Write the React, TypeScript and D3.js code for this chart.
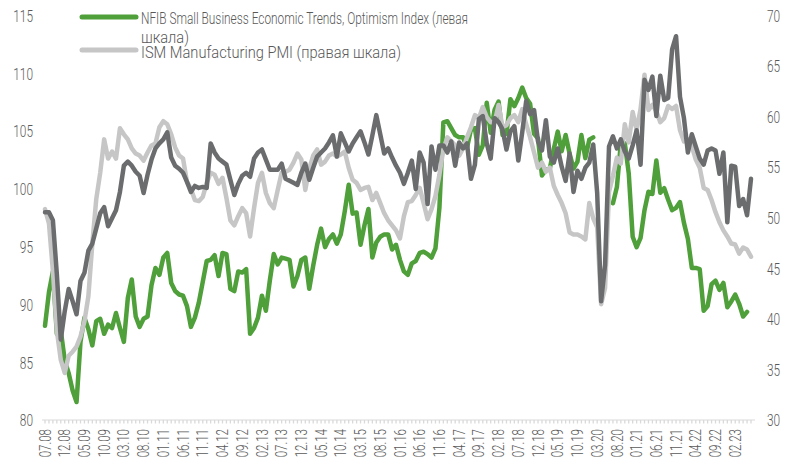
import React from "react";
import * as d3 from "d3";

// Tick labels for the time axis (MM.YY), one every 5 months starting 07.08
const tickLabels = [
  "07.08", "12.08", "05.09", "10.09", "03.10", "08.10", "01.11", "06.11", "11.11",
  "04.12", "09.12", "02.13", "07.13", "12.13", "05.14", "10.14", "03.15", "08.15",
  "01.16", "06.16", "11.16", "04.17", "09.17", "02.18", "07.18", "12.18", "05.19",
  "10.19", "03.20", "08.20", "01.21", "06.21", "11.21", "04.22", "09.22", "02.23",
];

// NFIB Small Business Optimism Index (left axis), monthly from 07.2008
const nfib: (number | null)[] = [
  88.2, 91.1, 92.9, 87.5, 87.8, 85.2,
  84.1, 82.6, 81.6, 86.8, 88.9, 87.9, 86.5, 88.6, 88.8, 87.5, 88.3, 88.0,
  89.3, 88.0, 86.8, 90.6, 92.2, 89.0, 88.1, 88.8, 89.0, 91.7, 93.2, 92.6,
  94.1, 94.5, 91.9, 91.2, 90.9, 90.8, 89.9, 88.1, 88.9, 90.2, 92.0, 93.8,
  93.9, 94.3, 92.5, 94.5, 94.4, 91.4, 91.2, 92.9, 92.8, 93.1, 87.5, 88.0,
  88.9, 90.8, 89.5, 92.1, 94.4, 93.5, 94.1, 94.0, 93.9, 91.6, 92.5, 93.9,
  94.1, 91.4, 93.4, 95.2, 96.6, 95.0, 95.7, 96.1, 95.3, 96.1, 98.1, 100.4,
  97.9, 98.0, 95.2, 96.9, 98.3, 94.1, 95.4, 95.9, 96.1, 96.1, 94.8, 95.2,
  93.9, 92.9, 92.6, 93.6, 93.8, 94.5, 94.6, 94.4, 94.1, 94.9, 98.4, 105.8,
  105.9, 105.3, 104.7, 104.5, 104.5, 103.6, 105.2, 105.3, 103.0, 103.8, 107.5, 104.9,
  106.9, 107.6, 104.7, 104.8, 107.8, 107.2, 107.9, 108.8, 107.9, 107.4, 104.8, 104.4,
  101.2, 101.7, 101.8, 103.5, 105.0, 103.3, 104.7, 103.1, 101.8, 102.4, 104.7, 102.7,
  104.3, 104.5, null, null, null, null, 98.8, 100.2, 104.0, 104.0, 101.4, 95.9,
  95.0, 95.8, 98.2, 99.8, 99.6, 102.5, 99.7, 100.1, 99.1, 98.2, 98.4, 98.9,
  97.1, 95.7, 93.2, 93.2, 93.1, 89.5, 89.9, 91.8, 92.1, 91.3, 91.9, 89.8,
  90.3, 90.9, 90.1, 89.0, 89.4,
];

// ISM Manufacturing PMI (right axis)
const ismMfg: number[] = [
  50.9, 49.5, 44.8, 38.9, 36.0, 34.7,
  36.4, 36.8, 37.3, 38.3, 39.8, 42.3, 47.5, 51.9, 54.5, 57.8, 55.9, 56.6,
  55.9, 58.9, 58.3, 57.8, 56.9, 56.4, 56.2, 55.7, 56.5, 57.2, 57.4, 59.0,
  59.6, 59.3, 58.3, 57.0, 56.2, 55.9, 53.6, 52.9, 51.8, 51.7, 52.1, 53.5,
  54.5, 54.3, 53.4, 54.0, 52.0, 49.8, 49.3, 50.2, 51.0, 50.5, 48.2, 51.0,
  53.5, 54.5, 52.5, 51.5, 51.0, 52.8, 54.5, 54.6, 54.8, 55.5, 56.4, 55.8,
  52.8, 54.9, 56.2, 56.8, 55.3, 55.6, 56.2, 56.4, 56.1, 56.3, 56.6, 55.0,
  53.8, 53.5, 52.8, 53.0, 53.1, 51.8, 52.5, 51.5, 50.5, 49.8, 49.3, 48.8,
  48.0, 50.2, 51.6, 51.7, 52.3, 53.0, 51.5, 49.9, 50.9, 52.2, 54.3, 56.8,
  58.0, 57.6, 57.2, 56.2, 56.9, 58.0, 59.0, 60.2, 59.9, 61.0, 60.0, 59.5,
  59.5, 61.2, 59.0, 59.2, 59.9, 60.2, 59.5, 60.8, 59.3, 58.0, 56.5, 55.0,
  55.5, 54.6, 55.0, 53.2, 52.3, 51.5, 50.5, 48.6, 48.4, 48.4, 48.2, 47.9,
  51.5, 50.0, 49.1, 41.5, 43.1, 52.6, 54.2, 56.0, 55.4, 59.3, 57.5, 60.5,
  58.7, 60.8, 64.2, 60.7, 61.2, 60.6, 59.5, 59.9, 61.1, 60.8, 61.1, 58.7,
  57.6, 57.8, 57.1, 55.8, 55.0, 53.0, 52.8, 51.8, 50.6, 49.6, 48.8, 48.2,
  47.5, 47.4, 46.5, 47.1, 46.9, 46.2,
];

// ISM Services PMI (right axis, dark grey, no legend entry)
const ismServices: number[] = [
  50.6, 50.6, 49.8, 44.5, 38.0, 40.8,
  43.0, 41.8, 40.5, 43.8, 44.6, 46.8, 47.5, 49.0, 50.5, 51.1, 49.2, 50.0,
  50.8, 52.6, 55.2, 55.6, 55.2, 54.6, 54.2, 52.5, 54.3, 55.8, 56.9, 57.4,
  57.8, 58.5, 56.0, 55.2, 54.9, 54.5, 53.6, 52.6, 53.2, 53.0, 53.1, 53.0,
  57.4, 56.5, 55.9, 55.6, 55.3, 53.8, 52.3, 53.4, 54.2, 54.5, 54.1, 55.9,
  56.5, 56.8, 55.8, 54.8, 54.8, 54.8, 55.4, 53.9, 53.7, 53.5, 53.3, 54.5,
  55.4, 53.8, 55.0, 56.1, 56.5, 56.9, 57.5, 58.2, 56.1, 58.4, 57.5, 56.6,
  57.4, 58.0, 58.6, 57.5, 56.3, 58.2, 60.2, 58.3, 56.4, 56.9, 56.0, 55.2,
  54.5, 53.4, 54.5, 55.7, 52.9, 56.5, 55.5, 51.4, 57.1, 54.8, 57.2, 57.2,
  56.5, 57.6, 55.2, 57.5, 56.9, 57.4, 53.9, 55.3, 59.8, 60.1, 57.4, 55.9,
  59.9, 59.5, 58.8, 56.8, 58.6, 59.1, 55.7, 58.5, 61.6, 60.3, 60.7, 57.6,
  56.7, 59.7, 56.1, 55.5, 56.9, 55.1, 53.7, 56.4, 52.6, 54.7, 53.9, 55.0,
  55.5, 57.3, 52.5, 41.8, 45.4, 57.1, 58.1, 56.9, 57.8, 56.6, 55.9, 57.2,
  58.7, 55.3, 63.7, 62.7, 64.0, 60.1, 64.1, 61.7, 61.9, 66.7, 68.0, 62.0,
  59.9, 56.5, 58.3, 57.1, 55.9, 55.3, 56.7, 56.9, 56.7, 54.4, 56.5, 49.6,
  55.2, 55.1, 51.2, 51.9, 50.3, 53.9,
];

const leftTicks = [80, 85, 90, 95, 100, 105, 110, 115];
const rightTicks = [30, 35, 40, 45, 50, 55, 60, 65, 70];

const legendNfibLine1 = "NFIB Small Business Economic Trends, Optimism Index (левая";
const legendNfibLine2 = "шкала)";
const legendIsm = "ISM Manufacturing PMI (правая шкала)";

const W = 800;
const H = 475;
const FONT = "Roboto, 'Liberation Sans', sans-serif";
const TEXT = "#595959";
const GREEN = "#4f9f3a";
const LIGHT = "#c6c6c6";
const DARK = "#6a6c6e";
const SQ = 0.72; // horizontal condensing of the tick font

function monthIndex(label: string): number {
  const [mm, yy] = label.split(".").map(Number);
  return (yy - 8) * 12 + mm - 7;
}

export default function App() {
  const n = ismMfg.length;
  const x = d3.scaleLinear().domain([0, n - 1]).range([45, 751]);
  const yL = d3.scaleLinear().domain([80, 115]).range([420.5, 16]);
  const yR = d3.scaleLinear().domain([30, 70]).range([420.5, 16]);

  const lineL = d3
    .line<number | null>()
    .defined((d) => d != null)
    .x((_, i) => x(i))
    .y((d) => yL(d as number));
  const lineR = d3
    .line<number>()
    .x((_, i) => x(i))
    .y((d) => yR(d));

  const months = d3.range(n);

  return (
    <svg
      width={W}
      height={H}
      style={{ position: "absolute", left: 0, top: 0, display: "block", background: "#fff" }}
    >
      {/* x axis */}
      <line x1={42} x2={755} y1={420} y2={420} stroke="#d9d9d9" strokeWidth={1} />
      {months.map((i) => (
        <line key={"t" + i} x1={x(i)} x2={x(i)} y1={420} y2={423.5} stroke="#d9d9d9" strokeWidth={1.3} />
      ))}

      {/* series */}
      <path d={lineL(nfib) || ""} fill="none" stroke={GREEN} strokeWidth={4.5} strokeLinejoin="round" strokeLinecap="round" />
      <path d={lineR(ismMfg) || ""} fill="none" stroke={LIGHT} strokeWidth={4.5} strokeLinejoin="round" strokeLinecap="round" />
      <path d={lineR(ismServices) || ""} fill="none" stroke={DARK} strokeWidth={4.5} strokeLinejoin="round" strokeLinecap="round" />

      {/* left axis labels */}
      {leftTicks.map((v) => (
        <text
          key={"l" + v}
          transform={`translate(33,${yL(v)}) scale(${SQ},1)`}
          dy="0.35em"
          textAnchor="end"
          fontFamily={FONT}
          fontWeight={300}
          fontSize={16.5}
          fill={TEXT}
        >
          {v}
        </text>
      ))}

      {/* right axis labels */}
      {rightTicks.map((v) => (
        <text
          key={"r" + v}
          transform={`translate(767,${yR(v)}) scale(${SQ},1)`}
          dy="0.35em"
          textAnchor="start"
          fontFamily={FONT}
          fontWeight={300}
          fontSize={16.5}
          fill={TEXT}
        >
          {v}
        </text>
      ))}

      {/* x tick labels */}
      {tickLabels.map((s) => (
        <text
          key={"x" + s}
          transform={`translate(${x(monthIndex(s))},429) rotate(-90) scale(${SQ},1)`}
          dy="0.35em"
          textAnchor="end"
          fontFamily={FONT}
          fontWeight={300}
          fontSize={16}
          fill={TEXT}
        >
          {s}
        </text>
      ))}

      {/* legend */}
      <line x1={82} x2={136} y1={17} y2={17} stroke={GREEN} strokeWidth={5} strokeLinecap="round" />
      <text x={141} y={24} fontFamily={FONT} fontWeight={300} fontSize={17} fill={TEXT} textLength={327} lengthAdjust="spacingAndGlyphs">
        {legendNfibLine1}
      </text>
      <text x={141} y={43} fontFamily={FONT} fontWeight={300} fontSize={17} fill={TEXT} textLength={48} lengthAdjust="spacingAndGlyphs">
        {legendNfibLine2}
      </text>
      <line x1={82} x2={136} y1={50} y2={50} stroke={LIGHT} strokeWidth={5} strokeLinecap="round" />
      <text x={141} y={57.5} fontFamily={FONT} fontWeight={300} fontSize={17} fill={TEXT} textLength={260} lengthAdjust="spacingAndGlyphs">
        {legendIsm}
      </text>
    </svg>
  );
}
